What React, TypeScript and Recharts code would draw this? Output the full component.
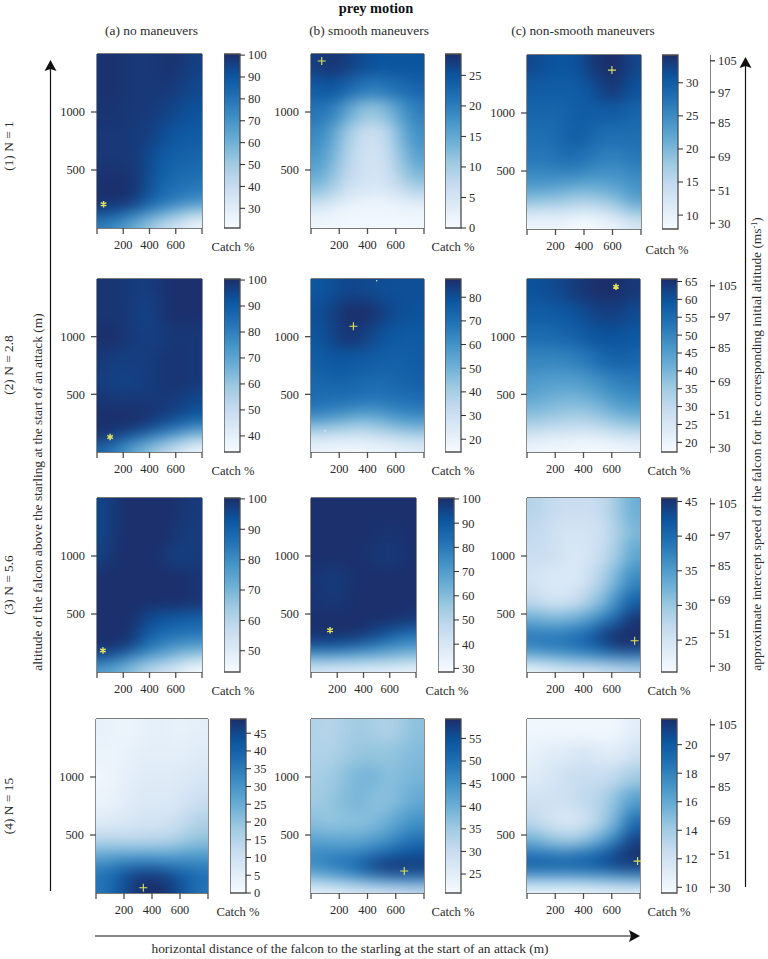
import React from 'react';
import { Bar, BarChart, ComposedChart, Scatter, ScatterChart, XAxis, YAxis } from 'recharts';

// grid of the surfaces: one value per column and altitude band, top row first
const columnCentres = [50, 150, 250, 350, 450, 550, 650, 750];
const altitudeCentres = [1400, 1200, 1000, 800, 600, 450, 325, 225, 125, 40];
const altitudeEdges = [1500, 1300, 1100, 900, 700, 525, 387.5, 275, 175, 82.5, 0];

const catchA1 = [
  [99, 100, 98, 98, 98, 100, 98, 96],
  [99, 100, 98, 98, 98, 98, 96, 94],
  [99, 99, 98, 98, 97, 95, 93, 91],
  [98, 98, 98, 97, 95, 91, 89, 88],
  [98, 98, 98, 96, 91, 87, 86, 85],
  [99, 100, 99, 96, 89, 85, 83, 82],
  [100, 100, 100, 95, 87, 82, 80, 78],
  [100, 100, 99, 92, 84, 79, 76, 72],
  [93, 90, 83, 76, 68, 61, 54, 47],
  [76, 72, 64, 56, 47, 39, 32, 24],
];
const catchB1 = [
  [27, 28, 27, 26, 25, 25, 25, 25],
  [24, 25, 23, 21, 20, 21, 22, 23],
  [21, 20, 16, 12, 11, 13, 17, 20],
  [19, 16, 11, 7, 6, 8, 14, 18],
  [17, 14, 9, 6, 5, 7, 12, 16],
  [15, 12, 8, 6, 5, 6, 10, 13],
  [12, 10, 6, 5, 4, 5, 7, 9],
  [7, 5, 3, 2, 2, 2, 3, 4],
  [3, 2, 1, 1, 1, 1, 1, 1],
  [1, 1, 1, 1, 1, 1, 1, 1],
];
const catchC1 = [
  [32, 31, 31, 31, 33, 35, 35, 32],
  [30, 30, 30, 30, 31, 33, 33, 31],
  [29, 29, 29, 30, 30, 30, 30, 29],
  [28, 28, 29, 30, 29, 28, 28, 28],
  [27, 27, 28, 28, 27, 26, 26, 27],
  [25, 25, 25, 25, 24, 24, 24, 25],
  [22, 22, 21, 20, 20, 21, 22, 24],
  [18, 17, 17, 16, 16, 17, 19, 22],
  [12, 12, 12, 11, 11, 12, 14, 17],
  [9, 9, 9, 8, 8, 9, 10, 12],
];
const catchA2 = [
  [99, 99, 98, 97, 98, 100, 100, 100],
  [99, 99, 98, 96, 97, 100, 100, 100],
  [100, 100, 98, 97, 97, 98, 99, 98],
  [98, 97, 97, 97, 98, 99, 99, 98],
  [97, 96, 96, 97, 98, 99, 99, 98],
  [99, 98, 98, 98, 98, 98, 97, 95],
  [100, 100, 100, 100, 99, 97, 95, 92],
  [100, 100, 100, 98, 94, 89, 85, 80],
  [99, 96, 90, 84, 78, 72, 66, 60],
  [86, 80, 72, 65, 58, 51, 44, 37],
];
const catchB2 = [
  [78, 80, 82, 82, 81, 80, 80, 80],
  [80, 83, 87, 88, 86, 82, 80, 79],
  [78, 82, 86, 85, 81, 78, 77, 77],
  [76, 78, 78, 77, 76, 75, 75, 76],
  [73, 74, 74, 73, 72, 72, 74, 75],
  [71, 70, 70, 69, 68, 69, 70, 71],
  [65, 63, 60, 57, 57, 60, 63, 64],
  [47, 45, 42, 40, 42, 46, 50, 52],
  [28, 27, 27, 27, 29, 31, 34, 35],
  [19, 18, 17, 17, 18, 19, 21, 23],
];
const catchC2 = [
  [60, 61, 62, 64, 65, 66, 66, 64],
  [58, 58, 59, 60, 62, 63, 63, 61],
  [55, 55, 56, 57, 59, 60, 60, 59],
  [50, 50, 50, 51, 53, 56, 57, 56],
  [46, 45, 45, 45, 47, 49, 51, 52],
  [43, 41, 40, 40, 41, 44, 47, 48],
  [38, 37, 36, 35, 36, 38, 41, 43],
  [33, 31, 30, 30, 30, 32, 34, 36],
  [24, 23, 23, 22, 22, 23, 25, 26],
  [20, 19, 19, 18, 18, 18, 19, 20],
];
const catchA3 = [
  [96, 99, 100, 100, 100, 100, 99, 98],
  [96, 99, 100, 100, 100, 100, 98, 98],
  [97, 100, 100, 100, 100, 98, 97, 98],
  [100, 100, 100, 100, 100, 100, 100, 99],
  [100, 100, 100, 100, 100, 100, 100, 99],
  [100, 100, 100, 97, 94, 92, 91, 90],
  [100, 100, 100, 94, 89, 87, 86, 85],
  [100, 100, 97, 89, 84, 80, 78, 76],
  [94, 90, 83, 78, 74, 70, 66, 62],
  [76, 72, 68, 62, 57, 53, 49, 44],
];
const catchB3 = [
  [100, 100, 100, 100, 100, 100, 100, 100],
  [100, 100, 100, 100, 100, 99, 99, 100],
  [100, 100, 100, 100, 99, 98, 98, 100],
  [99, 97, 98, 100, 100, 100, 100, 100],
  [99, 98, 99, 100, 100, 100, 100, 100],
  [100, 100, 100, 100, 100, 100, 100, 98],
  [100, 100, 100, 100, 97, 93, 88, 84],
  [92, 92, 90, 86, 82, 78, 75, 72],
  [66, 66, 65, 64, 63, 62, 60, 58],
  [40, 39, 38, 37, 36, 35, 34, 33],
];
const catchC3 = [
  [28, 27, 26, 26, 26, 27, 30, 33],
  [27, 26, 25, 25, 25, 26, 29, 32],
  [26, 26, 25, 24, 25, 27, 30, 34],
  [25, 24, 24, 24, 26, 29, 33, 37],
  [27, 25, 25, 26, 29, 32, 37, 41],
  [33, 32, 32, 33, 35, 38, 41, 45],
  [38, 38, 38, 39, 41, 44, 46, 46],
  [38, 39, 39, 40, 41, 43, 45, 45],
  [32, 33, 34, 35, 36, 37, 38, 38],
  [22, 23, 24, 25, 25, 26, 27, 28],
];
const catchA4 = [
  [4, 3, 3, 4, 5, 4, 4, 5],
  [3, 3, 4, 5, 5, 5, 5, 6],
  [2, 3, 5, 6, 6, 6, 7, 8],
  [3, 4, 6, 7, 7, 7, 9, 11],
  [6, 7, 8, 9, 9, 10, 13, 16],
  [14, 14, 13, 14, 14, 15, 18, 20],
  [25, 26, 26, 26, 26, 26, 28, 28],
  [33, 36, 38, 39, 38, 36, 35, 34],
  [37, 41, 46, 48, 48, 45, 41, 38],
  [36, 40, 46, 49, 49, 46, 41, 36],
];
const catchB4 = [
  [33, 32, 34, 35, 34, 33, 35, 37],
  [33, 33, 35, 36, 36, 36, 37, 38],
  [34, 35, 37, 39, 39, 37, 38, 39],
  [35, 36, 38, 39, 37, 37, 39, 41],
  [37, 36, 37, 37, 38, 40, 43, 45],
  [42, 41, 41, 41, 43, 45, 48, 50],
  [46, 47, 47, 48, 50, 52, 54, 55],
  [46, 48, 50, 53, 57, 59, 59, 58],
  [38, 40, 42, 45, 47, 49, 50, 50],
  [24, 25, 26, 27, 28, 29, 30, 31],
];
const catchC4 = [
  [10, 10, 10, 10, 10, 10, 10, 11],
  [10.5, 11, 11, 11.5, 11.5, 11, 11, 12],
  [11, 11.5, 12, 12.5, 12.5, 12.5, 13, 14],
  [12, 12, 12, 12.5, 13, 13.5, 15, 16.5],
  [13, 12, 11.5, 11.5, 12.5, 14, 16, 19],
  [15.5, 14.5, 14, 14, 15, 16.5, 18.5, 21],
  [18.5, 18.5, 18, 18.5, 19, 20, 21, 21.8],
  [20, 20, 20, 20, 20, 20.5, 21, 21],
  [15.5, 15.5, 15.5, 15.5, 16, 16, 16.5, 17],
  [10.5, 10.5, 10.5, 10.5, 10.5, 11, 11, 11],
];

const distanceTicks = [0, 200, 400, 600, 800];
const altitudeTicks = [500, 1000];
const speedLabels = [105, 97, 85, 69, 51, 30];
const speedAltitudes = [1450, 1180, 915, 620, 335, 50];
const specksB2 = [
  { x: 99, y: 185 },
  { x: 465, y: 1485 },
];

const blues = ['#f7fbff', '#deebf7', '#c6dbef', '#9ecae1', '#6baed6', '#4292c6', '#2171b5', '#0b559f', '#1c2e6a'];

const INK = '#2b2b2b';
const FRAME = '#4e4e4e';
const SERIF = '"Liberation Serif", serif';
const FONT_SIZE = 12.4;
const MARK = '#e0e45c';

const panels = [
  { id: 'a1', rows: catchA1, low: 21, high: 100.5, ticks: [30, 40, 50, 60, 70, 80, 90, 100], x: 97, y: 54, w: 105, h: 174, barX: 224, labelX: 233, labelY: 251, mark: '*', markX: 50, markY: 205 },
  { id: 'b1', rows: catchB1, low: 0, high: 28.5, ticks: [0, 5, 10, 15, 20, 25], x: 311, y: 54, w: 113, h: 174, barX: 445, labelX: 453, labelY: 251, mark: '+', markX: 76, markY: 1440 },
  { id: 'c1', rows: catchC1, low: 7.9, high: 34.2, ticks: [10, 15, 20, 25, 30], x: 527, y: 55, w: 114, h: 174, barX: 662, labelX: 667, labelY: 254, mark: '+', markX: 596, markY: 1370 },
  { id: 'a2', rows: catchA2, low: 33.8, high: 100.4, ticks: [40, 50, 60, 70, 80, 90, 100], x: 97, y: 279, w: 105, h: 173, barX: 224, labelX: 233, labelY: 475, mark: '*', markX: 100, markY: 130 },
  { id: 'b2', rows: catchB2, low: 14.6, high: 87.7, ticks: [20, 30, 40, 50, 60, 70, 80], x: 311, y: 279, w: 113, h: 173, barX: 445, labelX: 453, labelY: 475, mark: '+', markX: 300, markY: 1090, specks: specksB2 },
  { id: 'c2', rows: catchC2, low: 17.3, high: 65.7, ticks: [20, 25, 30, 35, 40, 45, 50, 55, 60, 65], x: 527, y: 279, w: 113, h: 173, barX: 661, labelX: 669, labelY: 475, mark: '*', markX: 630, markY: 1433 },
  { id: 'a3', rows: catchA3, low: 43, high: 100.3, ticks: [50, 60, 70, 80, 90, 100], x: 97, y: 498, w: 105, h: 174, barX: 224, labelX: 233, labelY: 695, mark: '*', markX: 45, markY: 185 },
  { id: 'b3', rows: catchB3, low: 28.5, high: 100.4, ticks: [30, 40, 50, 60, 70, 80, 90, 100], x: 311, y: 498, w: 105, h: 174, barX: 438, labelX: 447, labelY: 695, mark: '*', markX: 145, markY: 360 },
  { id: 'c3', rows: catchC3, low: 20.4, high: 45.5, ticks: [25, 30, 35, 40, 45], x: 527, y: 498, w: 113, h: 174, barX: 661, labelX: 669, labelY: 695, mark: '+', markX: 762, markY: 270 },
  { id: 'a4', rows: catchA4, low: 0, high: 49, ticks: [0, 5, 10, 15, 20, 25, 30, 35, 40, 45], x: 96, y: 719, w: 112, h: 174, barX: 230, labelX: 238, labelY: 916, mark: '+', markX: 338, markY: 45 },
  { id: 'b4', rows: catchB4, low: 20.8, high: 59.3, ticks: [25, 30, 35, 40, 45, 50, 55], x: 311, y: 719, w: 113, h: 174, barX: 445, labelX: 453, labelY: 916, mark: '+', markX: 660, markY: 190 },
  { id: 'c4', rows: catchC4, low: 9.6, high: 21.8, ticks: [10, 12, 14, 16, 18, 20], x: 527, y: 719, w: 113, h: 174, barX: 661, labelX: 669, labelY: 916, mark: '+', markX: 783, markY: 275 },
];

const speedAxes = [
  { y: 55, h: 174 },
  { y: 280, h: 173 },
  { y: 498, h: 174 },
  { y: 719, h: 174 },
];

const speedRows = speedLabels.map((speed, i) => ({ speed, altitude: speedAltitudes[i] }));

const blueAt = (t: number) => {
  const pos = Math.min(Math.max(t, 0), 1) * (blues.length - 1);
  const i = Math.min(Math.floor(pos), blues.length - 2);
  const f = pos - i;
  const channel = (hex: string, at: number) => parseInt(hex.slice(at, at + 2), 16);
  const mix = (at: number) => Math.round(channel(blues[i], at) * (1 - f) + channel(blues[i + 1], at) * f);
  return `rgb(${mix(1)},${mix(3)},${mix(5)})`;
};

const tickStyle = { fontSize: FONT_SIZE, fill: INK, fontFamily: SERIF };
const AXIS_W = 50;
const AXIS_TOP = 10;
const AXIS_BOTTOM = 30;
const AXIS_RIGHT = 15;
const BLEED = 40;
const BAR_PAD = 9;

function HeatPanel({ panel }: { panel: (typeof panels)[number] }) {
  const cells = panel.rows.flatMap((row, r) =>
    row.map((value, c) => ({ x: columnCentres[c], y: altitudeCentres[r], value, r, c })),
  );
  const span = panel.high - panel.low;
  const pxX = panel.w / 800;
  const pxY = panel.h / 1500;

  const drawCell = (props: any) => {
    const { cx, cy, payload } = props;
    const left = cx - 50 * pxX - (payload.c === 0 ? BLEED : 0);
    const right = cx + 50 * pxX + (payload.c === columnCentres.length - 1 ? BLEED : 0);
    const top = cy - (altitudeEdges[payload.r] - payload.y) * pxY - (payload.r === 0 ? BLEED : 0);
    const bottom =
      cy + (payload.y - altitudeEdges[payload.r + 1]) * pxY + (payload.r === altitudeCentres.length - 1 ? BLEED : 0);
    return (
      <rect
        x={left - 0.5}
        y={top - 0.5}
        width={right - left + 1}
        height={bottom - top + 1}
        fill={blueAt((payload.value - panel.low) / span)}
      />
    );
  };

  const drawMark = (props: any) => {
    const { cx, cy } = props;
    if (panel.mark === '+') {
      return (
        <path d={`M${cx - 4} ${cy}H${cx + 4}M${cx} ${cy - 4}V${cy + 4}`} stroke={MARK} strokeWidth={1.1} fill="none" />
      );
    }
    return (
      <path
        d={`M${cx} ${cy - 3.2}V${cy + 3.2}M${cx - 2.8} ${cy - 1.6}L${cx + 2.8} ${cy + 1.6}M${cx - 2.8} ${cy + 1.6}L${cx + 2.8} ${cy - 1.6}`}
        stroke={MARK}
        strokeWidth={1.5}
        fill="none"
      />
    );
  };

  const drawSpeck = (props: any) => <circle cx={props.cx} cy={props.cy} r={0.8} fill="#dcebf7" />;

  return (
    <div style={{ position: 'absolute', left: panel.x - AXIS_W, top: panel.y - AXIS_TOP }}>
      <ScatterChart
        width={panel.w + AXIS_W + AXIS_RIGHT}
        height={panel.h + AXIS_TOP + AXIS_BOTTOM}
        margin={{ top: 0, right: 0, bottom: 0, left: 0 }}
        className={`heat-${panel.id}`}
      >
        <defs>
          <clipPath id={`plot-${panel.id}`}>
            <rect x={AXIS_W} y={AXIS_TOP} width={panel.w} height={panel.h} />
          </clipPath>
        </defs>
        <XAxis
          type="number"
          dataKey="x"
          domain={[0, 800]}
          ticks={distanceTicks}
          interval={0}
          height={AXIS_BOTTOM}
          stroke={FRAME}
          strokeWidth={1.3}
          tickSize={6}
          tickMargin={6}
          tick={tickStyle}
          tickFormatter={(v: number) => (v === 0 || v === 800 ? '' : String(v))}
        />
        <XAxis
          xAxisId="top"
          orientation="top"
          type="number"
          domain={[0, 800]}
          ticks={distanceTicks}
          interval={0}
          height={AXIS_TOP}
          stroke={FRAME}
          strokeWidth={1.3}
          tickSize={6}
          tickFormatter={() => ''}
        />
        <YAxis
          type="number"
          dataKey="y"
          domain={[0, 1500]}
          ticks={altitudeTicks}
          interval={0}
          width={AXIS_W}
          stroke={FRAME}
          strokeWidth={1.3}
          tickSize={6}
          tickMargin={6}
          tick={tickStyle}
        />
        <YAxis
          yAxisId="right"
          orientation="right"
          type="number"
          domain={[0, 1500]}
          ticks={altitudeTicks}
          interval={0}
          width={AXIS_RIGHT}
          stroke={FRAME}
          strokeWidth={1.3}
          tickSize={6}
          tickFormatter={() => ''}
        />
        <Scatter data={cells} shape={drawCell} className="heat-cells" isAnimationActive={false} />
        <Scatter
          data={[{ x: panel.markX, y: panel.markY }]}
          shape={drawMark}
          className="heat-mark"
          isAnimationActive={false}
        />
        {panel.specks ? <Scatter data={panel.specks} shape={drawSpeck} isAnimationActive={false} /> : null}
      </ScatterChart>
    </div>
  );
}

function ColourBar({ panel }: { panel: (typeof panels)[number] }) {
  const gradientId = `bar-${panel.id}`;
  return (
    <div style={{ position: 'absolute', left: panel.barX, top: panel.y - BAR_PAD }}>
      <BarChart
        width={16 + 32}
        height={panel.h + BAR_PAD * 2}
        data={[{ name: 'catch', span: [panel.low, panel.high] }]}
        margin={{ top: BAR_PAD, right: 0, bottom: BAR_PAD, left: 0 }}
        barCategoryGap={0}
      >
        <defs>
          <linearGradient id={gradientId} x1="0" y1="1" x2="0" y2="0">
            {blues.map((colour, i) => (
              <stop key={colour} offset={i / (blues.length - 1)} stopColor={colour} />
            ))}
          </linearGradient>
        </defs>
        <XAxis dataKey="name" hide />
        <YAxis
          orientation="right"
          type="number"
          domain={[panel.low, panel.high]}
          ticks={panel.ticks}
          interval={0}
          width={32}
          axisLine={false}
          stroke={INK}
          tickSize={5}
          tickMargin={3}
          tick={{ ...tickStyle, textAnchor: 'start' }}
        />
        <Bar dataKey="span" fill={`url(#${gradientId})`} stroke={FRAME} strokeWidth={1.3} isAnimationActive={false} />
      </BarChart>
    </div>
  );
}

function SpeedAxis({ y, h }: { y: number; h: number }) {
  return (
    <div style={{ position: 'absolute', left: 710, top: y - BAR_PAD }}>
      <ComposedChart
        width={34}
        height={h + BAR_PAD * 2}
        data={speedRows}
        margin={{ top: BAR_PAD, right: 0, bottom: BAR_PAD, left: 0 }}
      >
        <XAxis dataKey="speed" hide />
        <YAxis
          orientation="left"
          mirror
          type="number"
          dataKey="altitude"
          domain={[0, 1500]}
          ticks={speedAltitudes}
          interval={0}
          width={34}
          stroke={INK}
          strokeWidth={1.2}
          tickSize={5}
          tickMargin={3}
          tick={{ ...tickStyle, textAnchor: 'start' }}
          tickFormatter={(v: number) => String(speedLabels[speedAltitudes.indexOf(v)])}
        />
      </ComposedChart>
    </div>
  );
}

function Annotations() {
  const text = { fontFamily: SERIF, fontSize: 13.4, fill: INK };
  const small = { ...text, fontSize: 12.6 };
  return (
    <svg width={768} height={959} style={{ position: 'absolute', left: 0, top: 0, pointerEvents: 'none' }}>
      <defs>
        <filter id="soften" x="-20%" y="-20%" width="140%" height="140%" colorInterpolationFilters="sRGB">
          <feGaussianBlur stdDeviation="8 7.5" />
        </filter>
      </defs>
      <text x={376} y={13} textAnchor="middle" fontFamily={SERIF} fontSize={14.4} fontWeight="bold" fill="#111">
        prey motion
      </text>
      <text x={151.5} y={35} textAnchor="middle" {...text}>(a) no maneuvers</text>
      <text x={369} y={35} textAnchor="middle" {...text}>(b) smooth maneuvers</text>
      <text x={583} y={35} textAnchor="middle" {...text}>(c) non-smooth maneuvers</text>

      <text transform="translate(13 146) rotate(-90)" textAnchor="middle" {...text}>(1) N = 1</text>
      <text transform="translate(13 365) rotate(-90)" textAnchor="middle" {...text}>(2) N = 2.8</text>
      <text transform="translate(13 585) rotate(-90)" textAnchor="middle" {...text}>(3) N = 5.6</text>
      <text transform="translate(13 806) rotate(-90)" textAnchor="middle" {...text}>(4) N = 15</text>

      <text transform="translate(42 492) rotate(-90)" textAnchor="middle" {...text}>
        altitude of the falcon above the starling at the start of an attack (m)
      </text>
      <text transform="translate(761 444) rotate(-90)" textAnchor="middle" {...text}>
        approximate intercept speed of the falcon for the corresponding initial altitude (ms
        <tspan dy={-4} fontSize={8}>-1</tspan>
        <tspan dy={4}>)</tspan>
      </text>
      <text x={350} y={953} textAnchor="middle" {...text}>
        horizontal distance of the falcon to the starling at the start of an attack (m)
      </text>

      {panels.map(p => (
        <text key={p.id} x={p.labelX} y={p.labelY} textAnchor="middle" {...small}>Catch %</text>
      ))}

      <g stroke="#111" strokeWidth={1.2} fill="#111">
        <line x1={50.5} y1={68} x2={50.5} y2={891} />
        <path d="M44.5 71L50.5 60L56.5 71L50.5 69Z" stroke="none" />
        <line x1={745.5} y1={66} x2={745.5} y2={887} />
        <path d="M739.5 68L745.5 57L751.5 68L745.5 66Z" stroke="none" />
        <line x1={95} y1={936} x2={632} y2={936} />
        <path d="M629 930L640 936L629 942L631 936Z" stroke="none" />
      </g>
    </svg>
  );
}

export default function App() {
  const css = panels
    .map(p => `.heat-${p.id} .heat-cells{filter:url(#soften);clip-path:url(#plot-${p.id});}`)
    .join('\n');
  return (
    <div style={{ position: 'absolute', left: 0, top: 0, width: 768, height: 959, background: '#fff', overflow: 'hidden' }}>
      <style>{css}</style>
      <Annotations />
      {panels.map(p => (
        <React.Fragment key={p.id}>
          <HeatPanel panel={p} />
          <ColourBar panel={p} />
        </React.Fragment>
      ))}
      {speedAxes.map(a => (
        <SpeedAxis key={a.y} y={a.y} h={a.h} />
      ))}
    </div>
  );
}
